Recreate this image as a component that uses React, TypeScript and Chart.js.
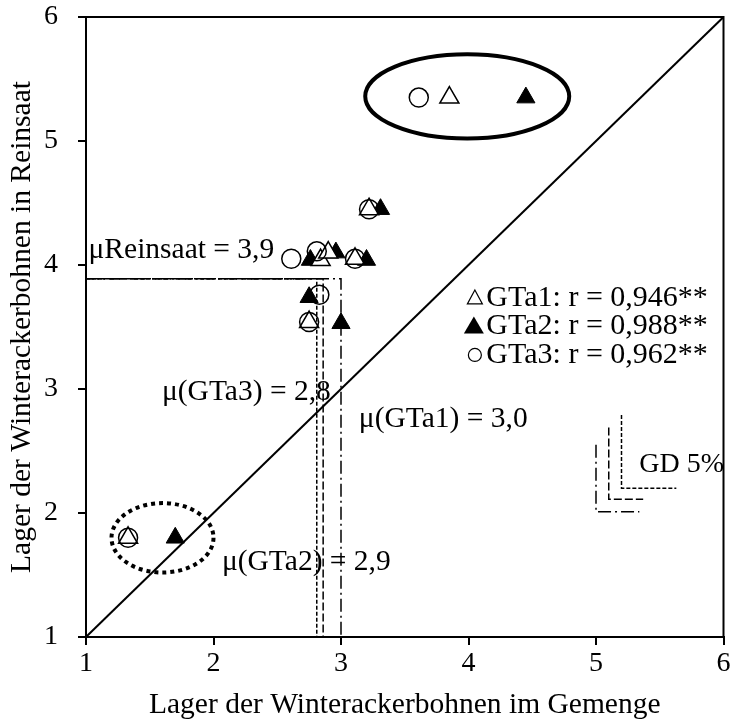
import React, { useEffect, useRef } from "react";
import { Chart, registerables } from "chart.js";

Chart.register(...registerables);

const FONT = '"Liberation Serif", "Times New Roman", serif';

// Lodging scores per environment: [x = Gemenge, y = Reinsaat]
const gta1Points: [number, number][] = [
  [3.22, 4.45], [2.84, 4.04], [2.9, 4.1], [3.11, 4.05], [2.75, 3.54], [1.33, 1.8], [3.85, 5.35],
];
const gta2Points: [number, number][] = [
  [3.31, 4.45], [2.76, 4.04], [2.96, 4.1], [3.2, 4.04], [2.75, 3.74], [3.0, 3.53], [1.7, 1.8], [4.45, 5.35],
];
const gta3Points: [number, number][] = [
  [3.22, 4.45], [2.61, 4.05], [2.81, 4.11], [3.11, 4.05], [2.83, 3.76], [2.75, 3.54], [1.33, 1.8], [3.61, 5.35],
];

// Means
const meanReinsaat = 3.89;
const meanGemenge = [3.0, 2.86, 2.81]; // GTa1, GTa2, GTa3

// GD 5% brackets: corner x, corner y, vertical length, horizontal length (GTa1, GTa2, GTa3)
const gdX = [5.0, 5.1, 5.2];
const gdY = [2.01, 2.11, 2.2];
const gdRein = [0.54, 0.58, 0.59];
const gdGem = [0.34, 0.27, 0.43];

const dashStyles = [
  [13, 4, 2, 4], // GTa1
  [8, 3], // GTa2
  [4, 2], // GTa3
];

const axisTicks = [1, 2, 3, 4, 5, 6];

const legendLabels = ["GTa1: r = 0,946**", "GTa2: r = 0,988**", "GTa3: r = 0,962**"];

const toXY = (pts: [number, number][]) => pts.map(([x, y]) => ({ x, y }));

const meanLines = meanGemenge.map((m, i) => ({
  type: "scatter" as const,
  data: [
    { x: 1, y: meanReinsaat },
    { x: m, y: meanReinsaat },
    { x: m, y: 1 },
  ],
  showLine: true,
  pointRadius: 0,
  borderColor: "#000",
  borderWidth: 1.5,
  borderDash: dashStyles[i],
  order: 10,
}));

const gdLines = gdX.map((gx, i) => ({
  type: "scatter" as const,
  data: [
    { x: gx, y: gdY[i] + gdRein[i] },
    { x: gx, y: gdY[i] },
    { x: gx + gdGem[i], y: gdY[i] },
  ],
  showLine: true,
  pointRadius: 0,
  borderColor: "#000",
  borderWidth: 1.5,
  borderDash: dashStyles[i],
  order: 10,
}));

const decorations = {
  id: "decorations",
  beforeDatasetsDraw(chart: any) {
    const { ctx } = chart;
    const xs = chart.scales.x;
    const ys = chart.scales.y;
    const px = (v: number) => xs.getPixelForValue(v);
    const py = (v: number) => ys.getPixelForValue(v);
    ctx.save();

    // ellipse around the highest environment
    ctx.beginPath();
    ctx.ellipse(px(3.99), py(5.36), px(3.99 + 0.8) - px(3.99), py(5.36) - py(5.36 + 0.34), 0, 0, Math.PI * 2);
    ctx.lineWidth = 4;
    ctx.strokeStyle = "#000";
    ctx.setLineDash([]);
    ctx.stroke();

    // dotted ellipse around the lowest environment
    ctx.beginPath();
    ctx.ellipse(px(1.6), py(1.8), px(1.6 + 0.4) - px(1.6), py(1.8) - py(1.8 + 0.28), 0, 0, Math.PI * 2);
    ctx.lineWidth = 4;
    ctx.setLineDash([4, 4]);
    ctx.stroke();
    ctx.setLineDash([]);

    // text annotations
    ctx.fillStyle = "#000";
    ctx.font = `29.5px ${FONT}`;
    ctx.textBaseline = "alphabetic";
    ctx.textAlign = "left";
    ctx.fillText("\u03bcReinsaat = 3,9", px(1.02), py(4.06));
    ctx.fillText("\u03bc(GTa1) = 3,0", px(3.14), py(2.69));
    ctx.textAlign = "right";
    ctx.fillText("\u03bc(GTa3) = 2,8", px(2.92), py(2.91));
    ctx.fillText("\u03bc(GTa2) = 2,9", px(3.39), py(1.54));
    ctx.font = `28px ${FONT}`;
    ctx.textAlign = "left";
    ctx.fillText("GD 5%", px(5.34), py(2.33));

    // correlation key
    ctx.font = `30px ${FONT}`;
    ctx.textAlign = "left";
    const baselines = [3.67, 3.44, 3.21];
    legendLabels.forEach((t, i) => {
      ctx.fillText(t, px(4.14), py(baselines[i]));
    });
    const sx = px(4.05);
    ctx.lineWidth = 1.2;
    // open triangle
    let cy = py(baselines[0]) - 8;
    ctx.beginPath();
    ctx.moveTo(sx, cy - 8);
    ctx.lineTo(sx + 7.5, cy + 6);
    ctx.lineTo(sx - 7.5, cy + 6);
    ctx.closePath();
    ctx.stroke();
    // filled triangle
    cy = py(baselines[1]) - 8;
    ctx.beginPath();
    ctx.moveTo(sx - 1, cy - 10);
    ctx.lineTo(sx + 9, cy + 7);
    ctx.lineTo(sx - 11, cy + 7);
    ctx.closePath();
    ctx.fill();
    // open circle
    cy = py(baselines[2]) - 8;
    ctx.beginPath();
    ctx.arc(sx, cy, 6.5, 0, Math.PI * 2);
    ctx.stroke();

    ctx.restore();
  },
  afterDraw(chart: any) {
    const { ctx, chartArea: a } = chart;
    ctx.save();
    ctx.strokeStyle = "#000";
    ctx.lineWidth = 2;
    ctx.strokeRect(a.left, a.top, a.right - a.left, a.bottom - a.top);
    ctx.restore();
  },
};

export default function App() {
  const ref = useRef<HTMLCanvasElement>(null);

  useEffect(() => {
    const chart = new Chart(ref.current!, {
      type: "scatter",
      data: {
        datasets: [
          {
            data: [{ x: 1, y: 1 }, { x: 6, y: 6 }],
            showLine: true,
            pointRadius: 0,
            borderColor: "#000",
            borderWidth: 2,
            order: 9,
          },
          ...meanLines,
          ...gdLines,
          {
            label: "GTa2",
            data: toXY(gta2Points),
            pointStyle: "triangle",
            pointRadius: 10.5,
            backgroundColor: "#000",
            borderColor: "#000",
            borderWidth: 1,
            order: 3,
          },
          {
            label: "GTa1",
            data: toXY(gta1Points),
            pointStyle: "triangle",
            pointRadius: 11,
            backgroundColor: "#fff",
            borderColor: "#000",
            borderWidth: 1.5,
            order: 2,
          },
          {
            label: "GTa3",
            data: toXY(gta3Points),
            pointStyle: "circle",
            pointRadius: 9.5,
            backgroundColor: "rgba(0,0,0,0)",
            borderColor: "#000",
            borderWidth: 1.5,
            order: 1,
          },
        ] as any,
      },
      options: {
        animation: false,
        responsive: false,
        events: [],
        layout: { padding: { top: 17, right: 0, left: 0, bottom: 0 } },
        plugins: { legend: { display: false }, tooltip: { enabled: false } },
        scales: {
          x: {
            type: "linear",
            min: 1,
            max: 6,
            afterBuildTicks: (s: any) => {
              s.ticks = axisTicks.map((v) => ({ value: v }));
            },
            afterFit: (s: any) => {
              s.height = 91;
            },
            grid: { drawOnChartArea: false, drawTicks: true, tickLength: 8, color: "#000", lineWidth: 2 },
            border: { display: true, color: "#000", width: 2 },
            ticks: { color: "#000", font: { family: FONT, size: 28 }, padding: 2 },
            title: {
              display: true,
              text: "Lager der Winterackerbohnen im Gemenge",
              color: "#000",
              font: { family: FONT, size: 29.5 },
              padding: { top: 0, bottom: 5 },
            },
          },
          y: {
            type: "linear",
            min: 1,
            max: 6,
            afterBuildTicks: (s: any) => {
              s.ticks = axisTicks.map((v) => ({ value: v }));
            },
            afterFit: (s: any) => {
              s.width = 86;
              // keep the tick-label padding from pushing the plot area down
              s.paddingTop = 0;
              s.paddingBottom = 0;
            },
            grid: { drawOnChartArea: false, drawTicks: true, tickLength: 8, color: "#000", lineWidth: 2 },
            border: { display: true, color: "#000", width: 2 },
            ticks: { color: "#000", font: { family: FONT, size: 28 }, padding: 20 },
            title: {
              display: true,
              text: "Lager der Winterackerbohnen in Reinsaat",
              color: "#000",
              font: { family: FONT, size: 29.5 },
              padding: { top: 5, bottom: 0 },
            },
          },
        },
      },
      plugins: [decorations],
    } as any);
    return () => chart.destroy();
  }, []);

  return (
    <div style={{ position: "absolute", left: 0, top: 0, width: 736, height: 728 }}>
      <canvas ref={ref} width={736} height={728} style={{ display: "block" }} />
    </div>
  );
}
